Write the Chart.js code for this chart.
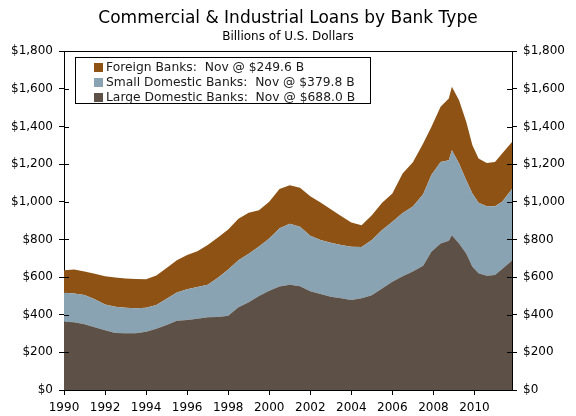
<!DOCTYPE html>
<html>
<head>
<meta charset="utf-8">
<script src="https://cdn.jsdelivr.net/npm/chart.js@4.4.0/dist/chart.umd.min.js"></script>
<style>
  html, body { margin: 0; padding: 0; background: #fff; }
  #wrap { width: 576px; height: 416px; }
</style>
</head>
<body>
<div id="wrap"><canvas id="chart" width="576" height="416"></canvas></div>
<script>
/* data (billions of US$) */
const years = [1990.0, 1990.5, 1991.0, 1991.5, 1992.0, 1992.5, 1993.0, 1993.5, 1994.0, 1994.5,
  1995.0, 1995.5, 1996.0, 1996.5, 1997.0, 1997.5, 1998.0, 1998.5, 1999.0, 1999.5,
  2000.0, 2000.5, 2001.0, 2001.5, 2002.0, 2002.5, 2003.0, 2003.5, 2004.0, 2004.5,
  2005.0, 2005.5, 2006.0, 2006.5, 2007.0, 2007.5, 2007.9, 2008.35, 2008.75, 2008.9,
  2009.25, 2009.6, 2009.9, 2010.2, 2010.6, 2011.0, 2011.35, 2011.83];

const largeDomestic = [363, 360, 350, 333, 317, 303, 301, 301, 310, 325,
  345, 368, 372, 378, 386, 388, 395, 440, 467, 500,
  527, 550, 560, 552, 525, 510, 496, 488, 478, 487,
  504, 540, 575, 605, 630, 660, 735, 779, 793, 823,
  779, 726, 655, 620, 607, 611, 643, 688.0];

const smallDomestic = [154, 153, 155, 149, 138, 140, 136, 134, 127, 127,
  140, 150, 163, 170, 174, 208, 245, 250, 257, 262,
  278, 310, 324, 316, 295, 287, 286, 282, 283, 273,
  293, 310, 319, 335, 345, 380, 407, 433, 428, 451,
  425, 389, 389, 375, 370, 366, 357, 379.8];

const foreign = [120, 128, 125, 136, 150, 155, 156, 155, 152, 156,
  163, 172, 183, 190, 210, 214, 213, 220, 218, 193,
  195, 208, 204, 207, 210, 199, 178, 155, 129, 115,
  132, 145, 150, 210, 235, 270, 256, 293, 328, 337,
  336, 310, 257, 235, 230, 235, 257, 249.6];

const yearTicks = [1990, 1992, 1994, 1996, 1998, 2000, 2002, 2004, 2006, 2008, 2010];

const legendLabels = [
  'Foreign Banks:  Nov @ $249.6 B',
  'Small Domestic Banks:  Nov @ $379.8 B',
  'Large Domestic Banks:  Nov @ $688.0 B'
];

const colors = {
  large: '#5d5147',
  small: '#8aa3b2',
  foreign: '#8e5214'
};

const FONT = 'DejaVu Sans';

function pts(vals) {
  return vals.map((v, i) => ({ x: years[i], y: v }));
}

/* box round the plot, inner tick stubs and the legend */
const framePlugin = {
  id: 'frame',
  afterDatasetsDraw(chart) {
    const ctx = chart.ctx;
    const a = chart.chartArea;
    const yl = chart.scales.y;
    ctx.save();
    ctx.strokeStyle = '#000';
    ctx.lineWidth = 1;
    // top line
    ctx.beginPath();
    ctx.moveTo(a.left, Math.round(a.top) + 0.5);
    ctx.lineTo(a.right, Math.round(a.top) + 0.5);
    ctx.stroke();
    // inner ticks on both y axes
    yl.ticks.forEach(t => {
      const py = Math.round(yl.getPixelForValue(t.value)) + 0.5;
      ctx.beginPath();
      ctx.moveTo(a.left, py); ctx.lineTo(a.left + 5, py);
      ctx.moveTo(a.right, py); ctx.lineTo(a.right - 5, py);
      ctx.stroke();
    });

    // legend
    const bx = 75.5, by = 57.5, bw = 295, bh = 46;
    ctx.fillStyle = '#fff';
    ctx.fillRect(bx, by, bw, bh);
    ctx.strokeRect(bx, by, bw, bh);
    const sw = [colors.foreign, colors.small, colors.large];
    ctx.font = '12.3px "' + FONT + '"';
    ctx.textBaseline = 'middle';
    legendLabels.forEach((txt, i) => {
      const cy = 67.5 + i * 15;
      ctx.fillStyle = sw[i];
      ctx.fillRect(94, cy - 4.5, 9, 9);
      ctx.fillStyle = '#1a1a1a';
      ctx.fillText(txt, 106, cy + 0.5);
    });
    ctx.restore();
  }
};

new Chart(document.getElementById('chart'), {
  type: 'line',
  data: {
    datasets: [{
      label: 'Large Domestic Banks',
      data: pts(largeDomestic),
      backgroundColor: colors.large,
      borderWidth: 0,
      pointRadius: 0,
      fill: 'origin'
    }, {
      label: 'Small Domestic Banks',
      data: pts(smallDomestic),
      backgroundColor: colors.small,
      borderWidth: 0,
      pointRadius: 0,
      fill: '-1'
    }, {
      label: 'Foreign Banks',
      data: pts(foreign),
      backgroundColor: colors.foreign,
      borderWidth: 0,
      pointRadius: 0,
      fill: '-1'
    }]
  },
  options: {
    responsive: false,
    animation: false,
    layout: { padding: 0 },
    plugins: {
      legend: { display: false },
      tooltip: { enabled: false },
      title: {
        display: true,
        text: 'Commercial & Industrial Loans by Bank Type',
        color: '#000',
        font: { family: FONT, size: 17, weight: 'normal', lineHeight: 1.2 },
        padding: { top: 8, bottom: 0 }
      },
      subtitle: {
        display: true,
        text: 'Billions of U.S. Dollars',
        color: '#000',
        font: { family: FONT, size: 12, weight: 'normal', lineHeight: 1.2 },
        padding: { top: 1, bottom: 7.5 }
      }
    },
    scales: {
      x: {
        type: 'linear',
        min: 1990,
        max: 2011.83,
        afterBuildTicks: s => { s.ticks = yearTicks.map(v => ({ value: v })); },
        afterFit: s => { s.height = 26; },
        grid: { drawOnChartArea: false, drawTicks: true, tickLength: 5, color: '#000' },
        border: { display: true, color: '#000', width: 1 },
        ticks: {
          color: '#000',
          padding: 6,
          maxRotation: 0,
          font: { family: FONT, size: 12 },
          callback: v => String(v)
        }
      },
      y: {
        stacked: true,
        position: 'left',
        min: 0,
        max: 1800,
        afterFit: s => { s.width = 64; },
        grid: { drawOnChartArea: false, drawTicks: true, tickLength: 5, color: '#000' },
        border: { display: true, color: '#000', width: 1 },
        ticks: {
          stepSize: 200,
          color: '#000',
          padding: 6,
          font: { family: FONT, size: 12 },
          callback: v => '$' + v.toLocaleString('en-US')
        }
      },
      y2: {
        position: 'right',
        min: 0,
        max: 1800,
        afterFit: s => { s.width = 64; },
        grid: { drawOnChartArea: false, drawTicks: true, tickLength: 5, color: '#000' },
        border: { display: true, color: '#000', width: 1 },
        ticks: {
          stepSize: 200,
          color: '#000',
          padding: 6,
          font: { family: FONT, size: 12 },
          callback: v => '$' + v.toLocaleString('en-US')
        }
      }
    }
  },
  plugins: [framePlugin]
});
</script>
</body>
</html>
